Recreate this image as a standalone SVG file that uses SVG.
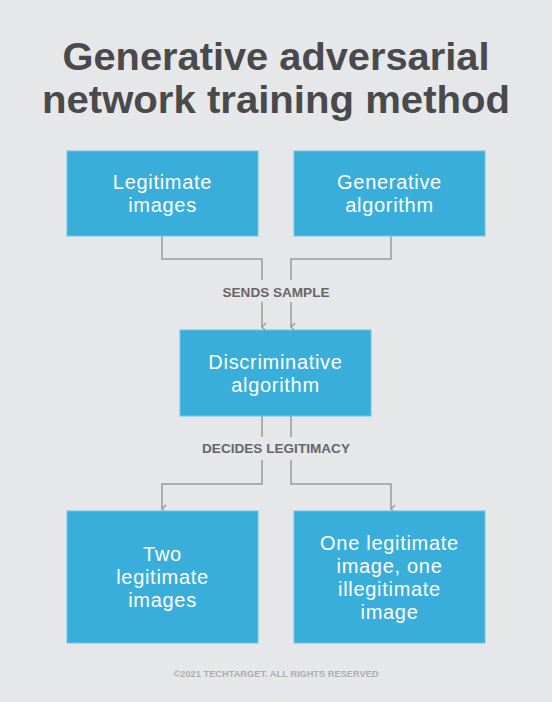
<svg xmlns="http://www.w3.org/2000/svg" width="552" height="702" viewBox="0 0 552 702">
<defs>
<style>
.title{font-family:"Liberation Sans",Arial,sans-serif;font-weight:bold;font-size:39px;fill:#4a4a4c;text-anchor:middle}
.box{fill:#3aaedb;stroke:#6fc4e6;stroke-width:1}
.bt{font-family:"Liberation Sans",Arial,sans-serif;font-size:20px;letter-spacing:0.7px;fill:#ffffff;text-anchor:middle}
.lbl{font-family:"Liberation Sans",Arial,sans-serif;font-weight:bold;font-size:13px;fill:#666668;text-anchor:middle}
.conn{fill:none;stroke:#999a9c;stroke-width:1.5}
.foot{font-family:"Liberation Sans",Arial,sans-serif;font-weight:bold;font-size:9px;fill:#adaeb0;text-anchor:middle}
</style>
<marker id="arr" viewBox="0 0 10 10" refX="5" refY="9" markerWidth="10" markerHeight="10" markerUnits="userSpaceOnUse" orient="auto-start-reverse">
<polyline points="1,5 5,9 9,5" fill="none" stroke="#999a9c" stroke-width="1.5"/>
</marker>
</defs>
<rect width="552" height="702" fill="#e6e7e9"/>
<g id="title">
<text class="title" x="276" y="70" textLength="427" lengthAdjust="spacingAndGlyphs">Generative adversarial</text>
<text class="title" x="276" y="113" textLength="468" lengthAdjust="spacingAndGlyphs">network training method</text>
</g>
<g id="connectors">
<polyline class="conn" points="162,236 162,259 262,259 262,280"/>
<polyline class="conn" points="391,236 391,259 291,259 291,280"/>
<line class="conn" x1="262" y1="302" x2="262" y2="327" marker-end="url(#arr)"/>
<line class="conn" x1="291" y1="302" x2="291" y2="327" marker-end="url(#arr)"/>
<text class="lbl" x="276" y="297" textLength="107" lengthAdjust="spacingAndGlyphs">SENDS SAMPLE</text>
<line class="conn" x1="262" y1="416" x2="262" y2="437"/>
<line class="conn" x1="291" y1="416" x2="291" y2="437"/>
<text class="lbl" x="276" y="453" textLength="148" lengthAdjust="spacingAndGlyphs">DECIDES LEGITIMACY</text>
<polyline class="conn" points="262,460 262,484 162,484 162,509" marker-end="url(#arr)"/>
<polyline class="conn" points="291,460 291,484 391,484 391,509" marker-end="url(#arr)"/>
</g>
<g id="legit">
<rect class="box" x="67" y="151" width="191" height="85"/>
<text class="bt" x="162.5" y="189">Legitimate</text>
<text class="bt" x="162.5" y="212">images</text>
</g>
<g id="generative">
<rect class="box" x="294" y="151" width="191" height="85"/>
<text class="bt" x="389.5" y="189">Generative</text>
<text class="bt" x="389.5" y="212">algorithm</text>
</g>
<g id="discriminative">
<rect class="box" x="180" y="330" width="191" height="86"/>
<text class="bt" x="275.5" y="369">Discriminative</text>
<text class="bt" x="275.5" y="392">algorithm</text>
</g>
<g id="two">
<rect class="box" x="67" y="511" width="191" height="132"/>
<text class="bt" x="162.5" y="561">Two</text>
<text class="bt" x="162.5" y="584">legitimate</text>
<text class="bt" x="162.5" y="607">images</text>
</g>
<g id="one">
<rect class="box" x="294" y="511" width="191" height="132"/>
<text class="bt" x="389.5" y="550">One legitimate</text>
<text class="bt" x="389.5" y="573">image, one</text>
<text class="bt" x="389.5" y="596">illegitimate</text>
<text class="bt" x="389.5" y="619">image</text>
</g>
<text class="foot" x="276" y="677" textLength="205" lengthAdjust="spacingAndGlyphs">©2021 TECHTARGET. ALL RIGHTS RESERVED</text>
</svg>
